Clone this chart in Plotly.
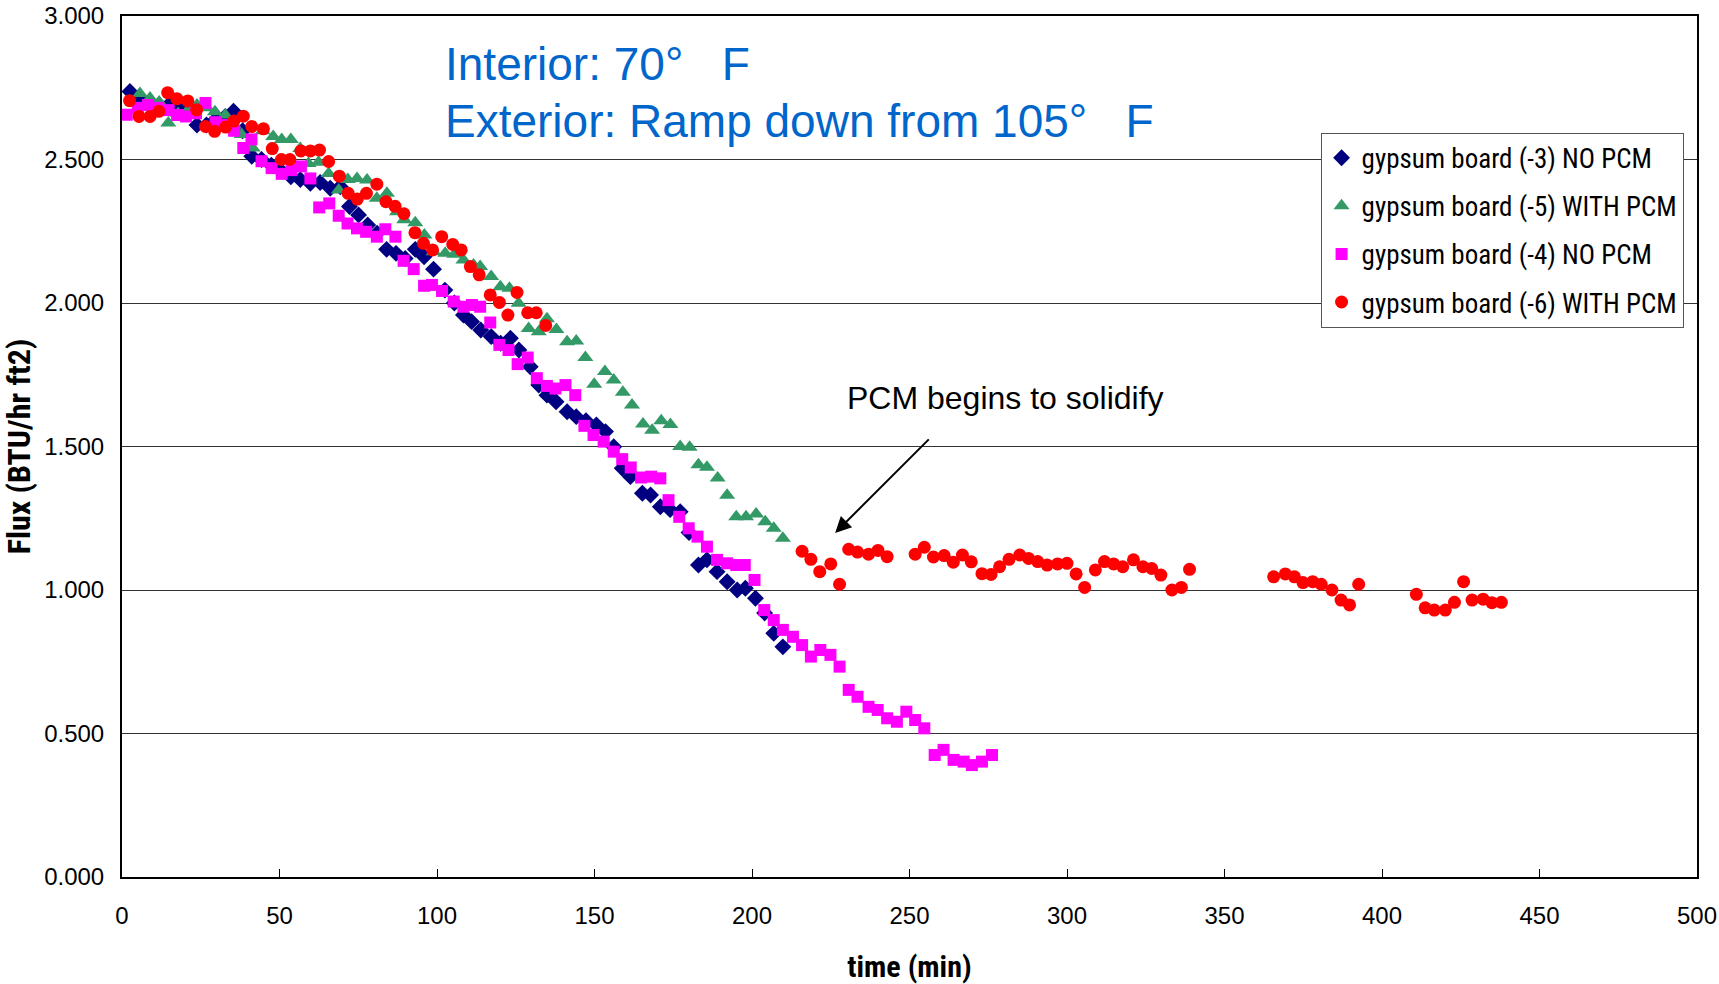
import plotly.graph_objects as go

# ---------------- data ----------------
navy_x = [2.5, 5.6, 8.8, 11.8, 14.8, 17.8, 20.8, 23.8, 26.8, 29.8, 32.8, 35.4, 38.3, 41.2, 44.3,
          47.4, 50.5, 53.6, 56.6, 59.8, 62.9, 66.1, 69.3, 72.2, 75.1, 78.0, 81.0, 84.0, 87.0, 89.9,
          93.1, 95.9, 98.9, 102.5, 105.5, 108.4, 111.0, 113.9, 117.2, 120.2, 123.3, 126.0, 129.6,
          132.3, 134.9, 137.8, 141.3, 144.2, 147.3, 150.6, 153.5, 156.1, 158.8, 161.4, 165.2,
          167.8, 170.9, 174.0, 177.2, 180.0, 183.0, 185.7, 188.9, 192.1, 195.3, 197.9, 201.1,
          204.0, 206.9, 209.8]
navy_y = [2.737, 2.71, 2.70, 2.69, 2.69, 2.68, 2.66, 2.62, 2.62, 2.64, 2.65, 2.668, 2.60, 2.511,
          2.50, 2.48, 2.46, 2.44, 2.430, 2.417, 2.42, 2.40, 2.405, 2.336, 2.307, 2.272, 2.243,
          2.187, 2.173, 2.155, 2.187, 2.161, 2.118, 2.045, 2.00, 1.958, 1.935, 1.906, 1.883, 1.86,
          1.877, 1.836, 1.778, 1.714, 1.679, 1.656, 1.621, 1.604, 1.59, 1.575, 1.552, 1.499, 1.424,
          1.395, 1.337, 1.331, 1.290, 1.28, 1.273, 1.20, 1.087, 1.105, 1.064, 1.029, 1.000, 1.006,
          0.971, 0.92, 0.849, 0.802]

green_x = [5.7, 8.9, 11.8, 14.7, 17.8, 20.8, 23.8, 26.8, 29.5, 32.8, 35.5, 38.0, 41.5, 44.7, 48.0,
           50.7, 53.6, 56.6, 59.2, 62.4, 65.6, 68.8, 71.7, 74.6, 77.8, 80.9, 84.1, 87.3, 89.6, 93.1,
           96.0, 98.9, 102.6, 105.5, 108.4, 111.6, 113.7, 117.2, 120.1, 123.0, 125.9, 129.1, 132.3,
           134.9, 137.9, 141.3, 144.2, 147.1, 149.9, 153.3, 156.1, 159.0, 161.9, 165.4, 168.3,
           171.2, 174.1, 177.2, 180.2, 183.0, 185.7, 189.1, 192.1, 195.0, 198.1, 201.3, 204.2,
           206.9, 209.8]
green_y = [2.73, 2.714, 2.70, 2.627, 2.66, 2.67, 2.69, 2.68, 2.666, 2.655, 2.62, 2.587, 2.54, 2.60,
           2.580, 2.570, 2.570, 2.538, 2.486, 2.49, 2.451, 2.394, 2.43, 2.434, 2.429, 2.365, 2.382,
           2.318, 2.29, 2.280, 2.237, 2.179, 2.173, 2.17, 2.15, 2.132, 2.127, 2.092, 2.057, 2.051,
           1.999, 1.911, 1.900, 1.945, 1.908, 1.865, 1.868, 1.810, 1.717, 1.761, 1.732, 1.689,
           1.645, 1.578, 1.557, 1.590, 1.577, 1.500, 1.497, 1.436, 1.428, 1.390, 1.330, 1.255,
           1.255, 1.265, 1.238, 1.215, 1.180]

mag_x = [1.5, 5.0, 8.3, 11.5, 14.8, 17.5, 20.3, 23.5, 26.5, 29.7, 32.9, 35.6, 38.5, 41.1, 44.3,
         47.5, 50.7, 53.8, 56.8, 59.8, 62.6, 65.8, 68.8, 71.6, 74.6, 77.5, 80.9, 83.6, 86.8, 89.4,
         92.6, 95.9, 98.4, 101.6, 105.3, 108.4, 111.1, 113.7, 116.9, 119.8, 122.7, 125.6, 128.8,
         131.7, 134.9, 137.6, 140.8, 143.9, 146.8, 149.7, 152.9, 156.1, 158.8, 161.5, 164.8,
         168.0, 170.9, 173.5, 176.9, 179.9, 182.7, 185.7, 188.9, 192.1, 195.0, 197.7, 200.8,
         203.9, 206.9, 209.8, 213.0, 215.9, 218.7, 221.7, 224.9, 227.8, 230.7, 233.5, 237.0,
         239.9, 242.9, 246.0, 249.0, 251.8, 254.7, 258.0, 260.8, 264.0, 267.2, 269.8, 273.0, 276.2]
mag_y = [2.656, 2.68, 2.690, 2.68, 2.672, 2.655, 2.650, 2.661, 2.697, 2.63, 2.62, 2.60, 2.540,
         2.570, 2.494, 2.470, 2.450, 2.463, 2.476, 2.434, 2.333, 2.347, 2.304, 2.277, 2.260, 2.248,
         2.231, 2.257, 2.231, 2.147, 2.118, 2.060, 2.063, 2.042, 2.005, 1.987, 1.993, 1.987, 1.932,
         1.854, 1.836, 1.787, 1.810, 1.738, 1.711, 1.702, 1.714, 1.679, 1.572, 1.540, 1.517, 1.482,
         1.456, 1.427, 1.392, 1.395, 1.389, 1.313, 1.255, 1.215, 1.186, 1.151, 1.105, 1.093, 1.087,
         1.087, 1.035, 0.930, 0.895, 0.861, 0.837, 0.808, 0.768, 0.791, 0.774, 0.733, 0.652, 0.628,
         0.593, 0.582, 0.553, 0.541, 0.576, 0.547, 0.518, 0.425, 0.443, 0.408, 0.402, 0.390, 0.402,
         0.425]

red_x = [2.4, 5.4, 8.9, 11.7, 14.5, 17.4, 20.9, 23.7, 26.5, 29.4, 32.9, 35.5, 38.5, 41.2, 44.9,
         47.7, 50.6, 53.3, 56.8, 59.8, 62.7, 65.6, 69.0, 71.8, 74.7, 77.6, 80.9, 83.8, 86.7, 89.5,
         93.0, 95.7, 98.6, 101.5, 105.0, 107.7, 110.6, 113.4, 116.9, 119.8, 122.5, 125.4, 128.8,
         131.5, 134.5,
         215.9, 218.7, 221.5, 225.0, 227.8, 230.7, 233.5, 237.0, 240.0, 242.9, 251.8, 254.7,
         257.6, 261.0, 263.9, 266.8, 269.6, 273.0, 275.9, 278.6, 281.6, 285.0, 287.8, 290.7,
         293.7, 297.0, 300.0, 302.9, 305.6, 309.0, 311.9, 314.8, 317.7, 321.1, 324.1, 326.9,
         329.8, 333.3, 336.3, 338.9, 365.6, 369.3, 372.2, 374.9, 378.0, 380.7, 384.1, 387.0,
         389.7, 392.6, 410.9, 413.7, 416.6, 420.1, 423.0, 425.9, 428.6, 432.1, 434.9, 437.9]
red_y = [2.705, 2.650, 2.650, 2.668, 2.733, 2.712, 2.704, 2.673, 2.615, 2.598, 2.613, 2.634, 2.651,
         2.615, 2.607, 2.538, 2.500, 2.500, 2.530, 2.530, 2.533, 2.493, 2.442, 2.382, 2.362, 2.382,
         2.414, 2.353, 2.337, 2.311, 2.245, 2.208, 2.185, 2.231, 2.204, 2.185, 2.127, 2.098, 2.028,
         2.002, 1.958, 2.037, 1.966, 1.966, 1.922,
         1.135, 1.107, 1.064, 1.091, 1.020, 1.142, 1.132, 1.125, 1.138, 1.116, 1.125, 1.149, 1.115,
         1.120, 1.097, 1.122, 1.098, 1.057, 1.054, 1.081, 1.107, 1.122, 1.110, 1.099, 1.087, 1.091,
         1.093, 1.056, 1.009, 1.070, 1.099, 1.091, 1.081, 1.105, 1.081, 1.075, 1.052, 1.000, 1.009,
         1.072, 1.046, 1.056, 1.046, 1.026, 1.029, 1.020, 1.000, 0.965, 0.948, 1.020, 0.985, 0.938,
         0.930, 0.930, 0.957, 1.029, 0.965, 0.968, 0.956, 0.957]

series_names = ["gypsum board (-3) NO PCM", "gypsum board (-5) WITH PCM",
                "gypsum board (-4) NO PCM", "gypsum board (-6) WITH PCM"]
x_ticks = [0, 50, 100, 150, 200, 250, 300, 350, 400, 450, 500]
y_ticks = [0.0, 0.5, 1.0, 1.5, 2.0, 2.5, 3.0]

# ---------------- figure ----------------
fig = go.Figure()
styles = [
    (navy_x, navy_y, "diamond", "#000080", 13),
    (green_x, green_y, "triangle-up", "#339966", 14),
    (mag_x, mag_y, "square", "#FF00FF", 12),
    (red_x, red_y, "circle", "#FF0000", 13),
]
for i, (xs, ys, sym, col, sz) in enumerate(styles):
    fig.add_trace(go.Scatter(
        x=xs, y=ys, mode="markers", name=series_names[i],
        legendgroup=f"g{i}", legendrank=i + 1,
        marker=dict(symbol=sym, color=col, size=sz, line=dict(width=0)),
    ))

sans = "Liberation Sans, Arial, sans-serif"
narrow = "Liberation Sans Narrow, Arial Narrow, Roboto Condensed, Liberation Sans, sans-serif"

fig.update_layout(
    width=1719, height=984,
    paper_bgcolor="white", plot_bgcolor="white",
    margin=dict(l=122, r=22, t=16, b=107),
    font=dict(family=sans, color="#000000", size=22),
    showlegend=True,
    legend=dict(
        x=0.761, y=0.8645, xanchor="left", yanchor="top",
        bgcolor="white", bordercolor="#555555", borderwidth=1,
        font=dict(family=narrow, size=27, color="#000000"),
        tracegroupgap=10, itemwidth=30,
    ),
    xaxis=dict(
        range=[0, 500], tickvals=x_ticks, ticktext=[str(v) for v in x_ticks],
        showgrid=False, zeroline=False, automargin=False,
        showline=True, linecolor="#000000", linewidth=2, mirror=True,
        ticks="inside", ticklen=8, tickcolor="#000000",
        ticklabelstandoff=16, ticklabeloverflow="allow",
        tickfont=dict(family=sans, size=24),
        title=dict(text="<b>time (min)</b>", font=dict(family=narrow, size=30), standoff=32),
    ),
    yaxis=dict(
        range=[0, 3], tickvals=y_ticks, tickformat=".3f",
        showgrid=True, gridcolor="#333333", gridwidth=1, zeroline=False, automargin=False,
        showline=True, linecolor="#000000", linewidth=2, mirror=True,
        ticks="outside", ticklen=0,
        ticklabelstandoff=11, ticklabeloverflow="allow",
        tickfont=dict(family=sans, size=24),
        title=dict(text="<b>Flux (BTU/hr ft2)</b>", font=dict(family=narrow, size=32), standoff=26),
    ),
)

blue = "#0066CC"
fig.add_annotation(x=102, y=2.833, xref="x", yref="y", xanchor="left", yanchor="middle",
                   text="Interior: 70°   F", showarrow=False,
                   font=dict(family=sans, size=46, color=blue))
fig.add_annotation(x=102, y=2.634, xref="x", yref="y", xanchor="left", yanchor="middle",
                   text="Exterior: Ramp down from 105°   F", showarrow=False,
                   font=dict(family=sans, size=46, color=blue))
fig.add_annotation(x=229.6, y=1.669, xref="x", yref="y", xanchor="left", yanchor="middle",
                   text="PCM begins to solidify", showarrow=False,
                   font=dict(family=sans, size=32, color="#000000"))
fig.add_annotation(x=226.4, y=1.199, ax=256.6, ay=1.53, xref="x", yref="y",
                   axref="x", ayref="y", text="", showarrow=True,
                   arrowhead=2, arrowsize=1.6, arrowwidth=2, arrowcolor="#000000")

# remove the default 8 px page margin so the 1719x984 figure fills the window exactly
fig.write_html("out.html",
               config={"displayModeBar": False},
               post_script="document.body.style.margin='0';document.body.style.overflow='hidden';")
